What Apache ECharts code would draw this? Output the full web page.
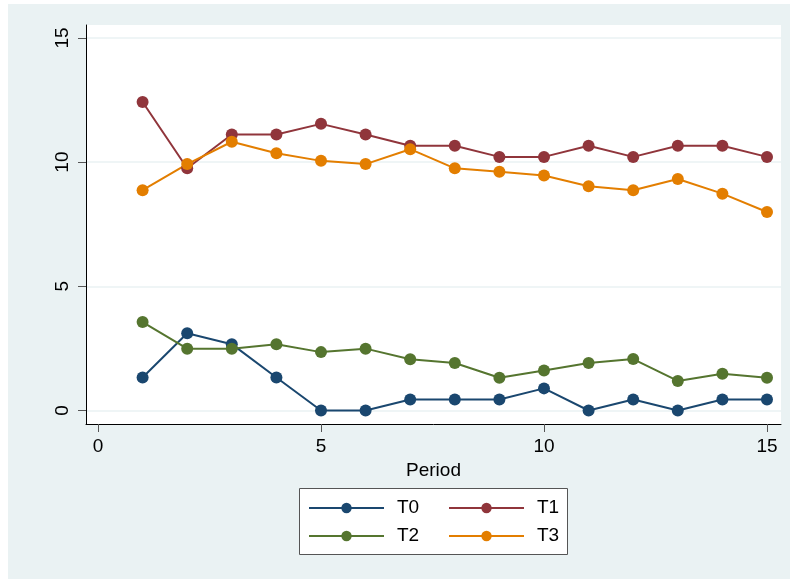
<!DOCTYPE html>
<html>
<head>
<meta charset="utf-8">
<script src="https://cdn.jsdelivr.net/npm/echarts@6/dist/echarts.min.js"></script>
<style>
  html, body { margin: 0; padding: 0; background: #ffffff; }
  #chart { position: absolute; left: 8px; top: 4px; width: 782px; height: 575px; }
</style>
</head>
<body>
<div id="chart"></div>
<script>
const periods = [1, 2, 3, 4, 5, 6, 7, 8, 9, 10, 11, 12, 13, 14, 15]
const t0 = [1.33, 3.11, 2.67, 1.33, 0, 0, 0.44, 0.44, 0.44, 0.89, 0, 0.44, 0, 0.44, 0.44]
const t1 = [12.42, 9.75, 11.11, 11.11, 11.54, 11.11, 10.66, 10.66, 10.21, 10.21, 10.66, 10.21, 10.66, 10.66, 10.21]
const t2 = [3.56, 2.49, 2.49, 2.67, 2.35, 2.49, 2.06, 1.91, 1.32, 1.61, 1.91, 2.07, 1.19, 1.48, 1.32]
const t3 = [8.87, 9.92, 10.82, 10.36, 10.05, 9.92, 10.52, 9.75, 9.61, 9.46, 9.03, 8.87, 9.32, 8.73, 7.99]
const xTicks = [0, 5, 10, 15]
const yTicks = [0, 5, 10, 15]

const font = 'Liberation Sans, Arial, sans-serif'
const colors = ['#1a476f', '#90353b', '#55752f', '#e37e00']

const chart = echarts.init(document.getElementById('chart'))

const mkSeries = (name, vals, color) => ({
  name: name,
  type: 'line',
  data: periods.map((p, i) => [p, vals[i]]),
  symbol: 'circle',
  symbolSize: 12,
  showSymbol: true,
  lineStyle: { color: color, width: 2 },
  itemStyle: { color: color },
  emphasis: { disabled: true },
  animation: false
})

const option = {
  backgroundColor: '#eaf2f3',
  animation: false,
  grid: {
    left: 78,
    right: 9,
    top: 21,
    bottom: 155,
    show: true,
    backgroundColor: '#ffffff',
    borderWidth: 0
  },
  xAxis: {
    type: 'value',
    min: -0.269,
    max: 15.314,
    name: 'Period',
    nameLocation: 'middle',
    nameGap: 33,
    nameTextStyle: { color: '#000', fontSize: 19, fontFamily: font },
    axisLine: { show: true, onZero: false, lineStyle: { color: '#000', width: 1 } },
    axisTick: { show: true, length: 8, customValues: xTicks, lineStyle: { color: '#555' } },
    axisLabel: { customValues: xTicks, color: '#000', fontSize: 19, fontFamily: font, margin: 13 },
    splitLine: { show: false }
  },
  yAxis: {
    type: 'value',
    min: -0.544,
    max: 15.52,
    axisLine: { show: true, onZero: false, lineStyle: { color: '#000', width: 1 } },
    axisTick: { show: true, length: 8, customValues: yTicks, lineStyle: { color: '#555' } },
    axisLabel: { customValues: yTicks, rotate: 90, color: '#000', fontSize: 19, fontFamily: font, margin: 14 },
    splitLine: { show: true, lineStyle: { color: '#eaf2f3', width: 1.5 } }
  },
  legend: {
    left: 300,
    top: 494,
    width: 280,
    padding: 0,
    itemWidth: 75,
    itemHeight: 13,
    itemGap: 8,
    textStyle: { color: '#000', fontSize: 19, fontFamily: font, width: 43, lineHeight: 20, padding: [0, 0, 0, 8] },
    data: ['T0', 'T1', 'T2', 'T3']
  },
  graphic: [{
    type: 'rect',
    left: 291,
    top: 484,
    shape: { width: 268, height: 66 },
    style: { fill: '#ffffff', stroke: '#555555', lineWidth: 1 },
    z: -1
  }],
  series: [
    mkSeries('T0', t0, colors[0]),
    mkSeries('T1', t1, colors[1]),
    mkSeries('T2', t2, colors[2]),
    mkSeries('T3', t3, colors[3])
  ]
}

chart.setOption(option)
</script>
</body>
</html>
